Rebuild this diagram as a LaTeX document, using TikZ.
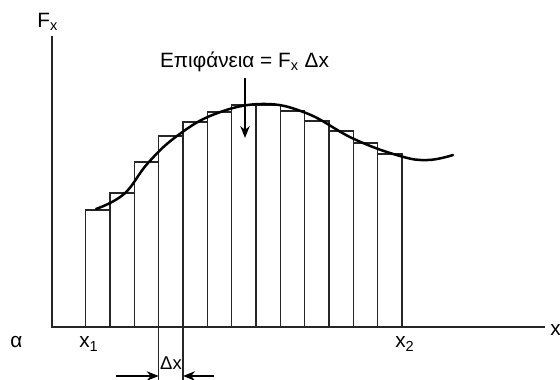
\documentclass[tikz,border=0pt]{standalone}
\usepackage{fontspec}
\setmainfont{Liberation Sans}
\usetikzlibrary{arrows.meta}

\begin{document}
\begin{tikzpicture}[x=0.2mm, y=-0.2mm,
    font=\fontsize{11.8}{13}\selectfont,
    axis/.style={draw=black!85, line width=0.32mm},
    strip/.style={draw=black!85, line width=0.26mm},
    curve/.style={draw=black, line width=0.5mm, line cap=round},
    pointer/.style={draw=black, line width=0.28mm, -{Stealth[length=2.4mm, width=1.9mm]}},
    lab/.style={inner sep=0pt},
  ]
  \useasboundingbox (0,0) rectangle (560,380);

  % axes
  \coordinate (o) at (52,327);
  \coordinate (ytop) at (52,36);
  \coordinate (xend) at (545,327);
  \draw[axis] (ytop) -- (o) -- (xend);

  % strips under the curve
  \foreach \i/\h in {0/210,1/193,2/162,3/136,4/122,5/112,6/105,7/105,8/111,9/121,10/131,11/143,12/154}{
    \pgfmathsetmacro\xa{85.7+24.33*\i}
    \pgfmathsetmacro\xb{85.7+24.33*(\i+1)}
    \draw[strip] (\xa,327) rectangle (\xb,\h);
  }

  % the curve F_x(x)
  \draw[curve] plot[smooth, tension=0.7] coordinates {
    (96,209) (124,194) (148,163) (177,136) (215,114) (262,104)
    (306,113) (354,139) (400,156) (428,160) (453,155)};

  % width of one strip
  \coordinate (d1) at (158.7,327);
  \coordinate (d1b) at (158.7,380);
  \coordinate (d2) at (183.0,327);
  \coordinate (d2b) at (183.0,380);
  \draw[strip] (d1) -- (d1b);
  \draw[strip] (d2) -- (d2b);
  \coordinate (la) at (116,376);
  \coordinate (ra) at (214,376);
  \draw[pointer] (la) -- (la -| d1);
  \draw[pointer] (ra) -- (ra -| d2);
  \node[lab, anchor=base, font=\fontsize{10.5}{12}\selectfont] (dx) at (171,369.3) {Δx};

  % labels
  \node[lab, anchor=base west] (fx) at (37,27.3) {F\textsubscript{x}};
  \node[lab, anchor=base east] (xl) at (561,335.7) {x};
  \node[lab, anchor=base west] (al) at (10,348) {α};
  \node[lab, anchor=base west] (x1) at (79,348) {x\textsubscript{1}};
  \node[lab, anchor=base west] (x2) at (395,348) {x\textsubscript{2}};

  \node[lab, anchor=base] (area) at (244.5,67.3) {Επιφάνεια = F\textsubscript{x} Δx};
  \coordinate (tip) at (245,138);
  \draw[pointer, shorten <=1.2mm] (area.south -| tip) -- (tip);
\end{tikzpicture}
\end{document}
